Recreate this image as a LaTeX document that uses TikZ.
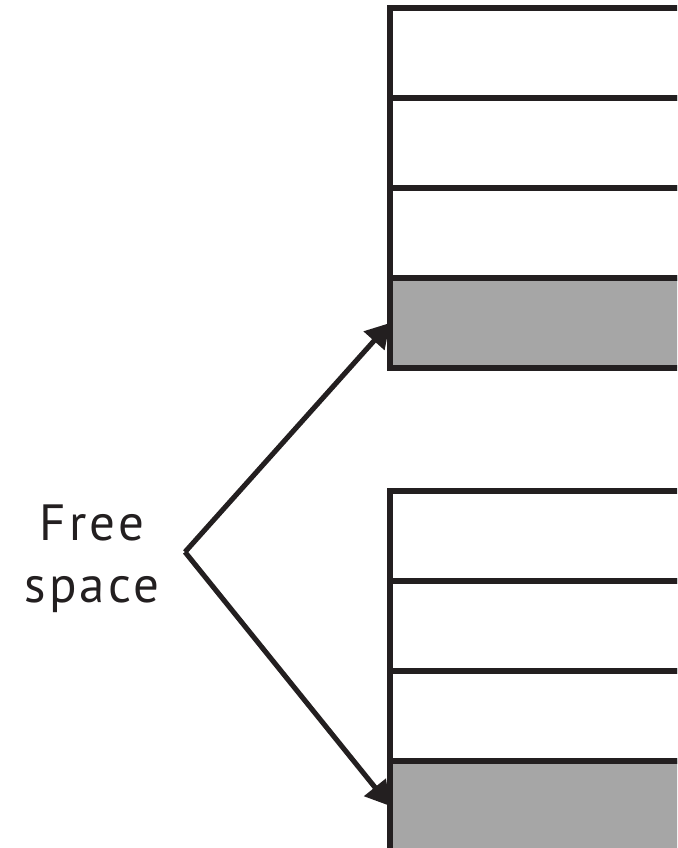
\documentclass[tikz,border=0pt]{standalone}
\usepackage{fontspec}
\setsansfont[LetterSpace=6]{PT Sans}
\usepackage{xcolor}
\definecolor{fsblack}{RGB}{35,31,32}
\definecolor{fsgray}{RGB}{166,166,166}
\usetikzlibrary{arrows.meta, positioning}

\tikzset{
  cell/.style={draw=fsblack, line width=3.1pt, fill=white, anchor=north west,
    minimum width=9cm, minimum height=1.8cm, inner sep=0pt, outer sep=0pt},
  usedcell/.style={cell, fill=fsgray},
  pointer/.style={draw=fsblack, line width=2.9pt, -{Triangle[length=0.48cm, width=0.54cm]}}
}

\begin{document}
\begin{tikzpicture}[x=0.02cm, y=-0.02cm]
  \useasboundingbox (0,0) rectangle (677,848);
  \clip (0,0) rectangle (677,848);

  % upper block
  \node[cell] (top1) at (390,8) {};
  \node[cell, below=0pt of top1.south west, anchor=north west] (top2) {};
  \node[cell, below=0pt of top2.south west, anchor=north west] (top3) {};
  \node[usedcell, below=0pt of top3.south west, anchor=north west] (top4) {};

  % lower block
  \node[cell] (bot1) at (390,491) {};
  \node[cell, below=0pt of bot1.south west, anchor=north west] (bot2) {};
  \node[cell, below=0pt of bot2.south west, anchor=north west] (bot3) {};
  \node[usedcell, below=0pt of bot3.south west, anchor=north west] (bot4) {};

  % label and arrows
  \node[font=\sffamily\fontsize{29}{35}\selectfont, text=fsblack, align=center] (freespace) at (92,559) {Free\\space};
  \coordinate (apex) at (185,552);
  \draw[pointer] (apex) -- (top4.west);
  \draw[pointer] (apex) -- (bot4.west);
\end{tikzpicture}
\end{document}
